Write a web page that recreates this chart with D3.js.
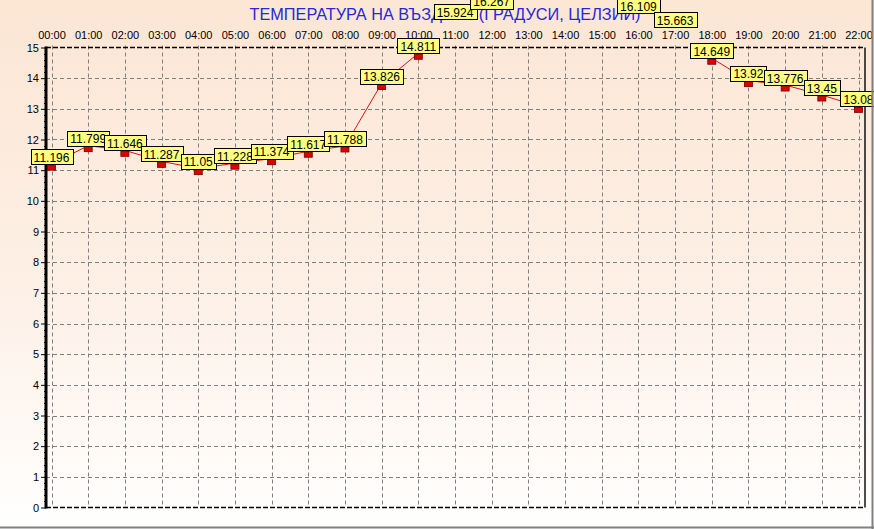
<!DOCTYPE html>
<html>
<head>
<meta charset="utf-8">
<script src="https://cdn.jsdelivr.net/npm/d3@7"></script>
<style>
  html, body { margin: 0; padding: 0; background: #fff; }
  svg { display: block; }
</style>
</head>
<body>
<svg id="chart" width="874" height="529"></svg>
<script>
// ---- data ----
const title = "ТЕМПЕРАТУРА НА ВЪЗДУХА (ГРАДУСИ, ЦЕЛЗИЙ)";
const hours = ["00:00","01:00","02:00","03:00","04:00","05:00","06:00","07:00","08:00","09:00","10:00","11:00",
               "12:00","13:00","14:00","15:00","16:00","17:00","18:00","19:00","20:00","21:00","22:00"];
// 13:00-15:00 are off the top of the picture (labels not visible): estimated
const temps = [11.196, 11.799, 11.646, 11.287, 11.05, 11.228, 11.374, 11.617, 11.788, 13.826, 14.811, 15.924,
               16.267, 16.72, 16.94, 16.68, 16.109, 15.663, 14.649, 13.92, 13.776, 13.45, 13.08];
const yTicks = [0,1,2,3,4,5,6,7,8,9,10,11,12,13,14,15];

// ---- layout ----
const W = 874, H = 529;
const plot = {left: 46, right: 865, top: 47.5, bottom: 507.5};
const svg = d3.select("#chart");
const font = "'Liberation Sans', Arial, sans-serif";

const x = d3.scalePoint().domain(hours).range([51.5, 858.5]);
const y = d3.scaleLinear().domain([0, 15]).range([plot.bottom, plot.top]);

// background gradient
const defs = svg.append("defs");
const grad = defs.append("linearGradient").attr("id", "bg").attr("x1", 0).attr("y1", 0).attr("x2", 0).attr("y2", 1);
grad.append("stop").attr("offset", "0%").attr("stop-color", "#fce6d4");
grad.append("stop").attr("offset", "55%").attr("stop-color", "#fdf0e6");
grad.append("stop").attr("offset", "100%").attr("stop-color", "#ffffff");
svg.append("rect").attr("width", W).attr("height", H).attr("fill", "url(#bg)");

defs.append("clipPath").attr("id", "plotclip")
  .append("rect").attr("x", plot.left).attr("y", plot.top)
  .attr("width", plot.right - plot.left).attr("height", plot.bottom - plot.top);

// grid
const grid = svg.append("g");
grid.selectAll("line.h").data(yTicks.filter(d => d > 0 && d < 15)).join("line")
  .attr("x1", plot.left).attr("x2", plot.right)
  .attr("y1", d => Math.round(y(d)) + 0.5).attr("y2", d => Math.round(y(d)) + 0.5)
  .attr("stroke", "#808080").attr("stroke-dasharray", "4,3");
grid.selectAll("line.v").data(hours).join("line")
  .attr("x1", d => Math.round(x(d)) + 0.5).attr("x2", d => Math.round(x(d)) + 0.5)
  .attr("y1", plot.top - 2).attr("y2", plot.bottom)
  .attr("stroke", "#808080").attr("stroke-dasharray", "4,3");

// frame lines
svg.append("line").attr("x1", plot.left).attr("x2", plot.right).attr("y1", plot.top).attr("y2", plot.top)
  .attr("stroke", "#000").attr("stroke-width", 1.6).attr("stroke-dasharray", "5,2");
svg.append("line").attr("x1", plot.left).attr("x2", plot.right).attr("y1", plot.bottom).attr("y2", plot.bottom)
  .attr("stroke", "#000").attr("stroke-width", 1.4).attr("stroke-dasharray", "5,2");
svg.append("line").attr("x1", plot.right).attr("x2", plot.right).attr("y1", plot.top).attr("y2", plot.bottom)
  .attr("stroke", "#000").attr("stroke-width", 1.4);

// left axis
const yAxis = d3.axisLeft(y).tickValues(yTicks).tickSize(5).tickPadding(2).tickFormat(d3.format("d"));
const gy = svg.append("g").attr("transform", `translate(${plot.left},0)`).call(yAxis);
gy.select(".domain").remove();
gy.selectAll(".tick line").attr("stroke", "#000");
gy.selectAll(".tick text").attr("font-family", font).attr("font-size", 11).attr("fill", "#000");
// minor ticks
const minor = d3.range(0, 15.001, 0.2).filter(v => Math.abs(v - Math.round(v)) > 0.01);
svg.append("g").selectAll("line").data(minor).join("line")
  .attr("x1", plot.left - 2).attr("x2", plot.left)
  .attr("y1", d => Math.round(y(d)) + 0.5).attr("y2", d => Math.round(y(d)) + 0.5)
  .attr("stroke", "#000");
svg.append("line").attr("x1", plot.left).attr("x2", plot.left).attr("y1", plot.top - 1).attr("y2", plot.bottom + 1)
  .attr("stroke", "#000").attr("stroke-width", 3);

// top axis labels
const xAxis = d3.axisTop(x).tickSize(0).tickPadding(9);
const gx = svg.append("g").attr("transform", `translate(0,${plot.top})`).call(xAxis);
gx.select(".domain").remove();
gx.selectAll(".tick text").attr("font-family", font).attr("font-size", 11).attr("fill", "#000");

// title
svg.append("text").attr("x", 445).attr("y", 20).attr("text-anchor", "middle")
  .attr("font-family", font).attr("font-size", 16.3).attr("fill", "#2828d8").text(title);

// line + markers (clipped to plot)
const pts = hours.map((h, i) => ({h, v: temps[i]}));
const clipped = svg.append("g").attr("clip-path", "url(#plotclip)");
clipped.append("path").datum(pts)
  .attr("d", d3.line().x(d => x(d.h)).y(d => y(d.v)))
  .attr("fill", "none").attr("stroke", "#e01010").attr("stroke-width", 1);
clipped.selectAll("rect.m").data(pts).join("rect")
  .attr("x", d => x(d.h) - 4).attr("y", d => y(d.v) + 1)
  .attr("width", 8).attr("height", 5)
  .attr("fill", "#dd0000").attr("stroke", "#700000").attr("stroke-width", 0.8);

// value labels (not clipped; those whose box falls entirely above the picture are not drawn)
const lg = svg.append("g");
pts.filter(d => y(d.v) + 1 > 0).forEach(d => {
  const g = lg.append("g");
  const px = x(d.h), py = y(d.v) + 1;
  const t = g.append("text").attr("font-family", font).attr("font-size", 12).attr("fill", "#000")
    .attr("text-anchor", "middle").attr("x", px).attr("y", py - 3.5).text(String(d.v));
  const w = t.node().getComputedTextLength() + 6;
  g.insert("rect", "text")
    .attr("x", Math.round(px - w / 2) + 0.5).attr("y", Math.round(py - 16) + 0.5)
    .attr("width", Math.round(w)).attr("height", 15)
    .attr("fill", "#ffff80").attr("stroke", "#000").attr("stroke-width", 1);
});

// outer panel edges
svg.append("line").attr("x1", 0).attr("x2", W).attr("y1", 527.5).attr("y2", 527.5).attr("stroke", "#808080").attr("stroke-width", 2);
svg.append("line").attr("x1", 872.5).attr("x2", 872.5).attr("y1", 0).attr("y2", H).attr("stroke", "#808080").attr("stroke-width", 2);
</script>
</body>
</html>
